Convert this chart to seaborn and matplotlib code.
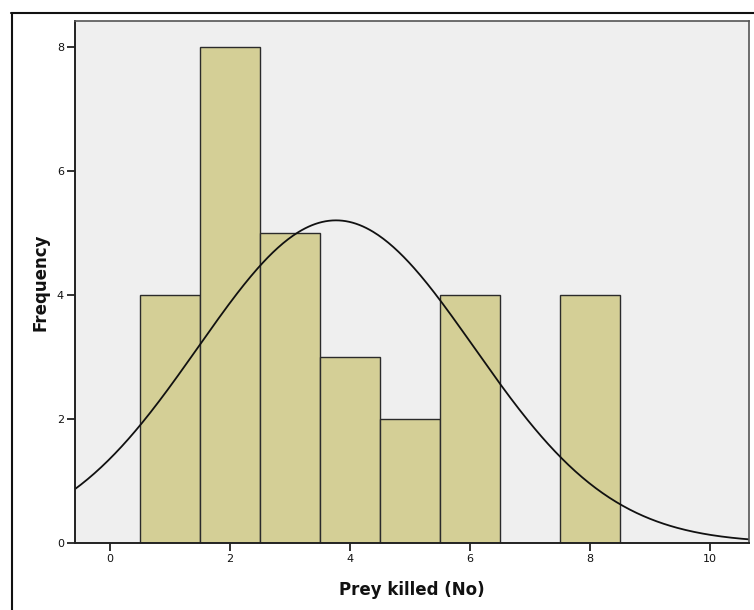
import numpy as np
import pandas as pd
import matplotlib
matplotlib.use("Agg")
import matplotlib.pyplot as plt
from matplotlib.lines import Line2D
import seaborn as sns

# Histogram counts
prey_killed = [1, 2, 3, 4, 5, 6, 7, 8]
frequency = [4, 8, 5, 3, 2, 4, 0, 4]

x_ticks = [0, 2, 4, 6, 8, 10]
y_ticks = [0, 2, 4, 6, 8]

obs = np.repeat(prey_killed, frequency)
df = pd.DataFrame({"prey": obs})

# fitted normal curve (as SPSS draws it)
mu = obs.mean()
sd = obs.std(ddof=1)
n = len(obs)

sns.set_style("white")
plt.rcParams["font.family"] = ["DejaVu Sans"]

fig = plt.figure(figsize=(7.54, 6.10), dpi=100)
ax = fig.add_axes([0.0995, 0.1098, 0.8939, 0.8558])
ax.set_facecolor("#efefef")

sns.histplot(data=df, x="prey", discrete=True, color="#d4cf96", alpha=1,
             edgecolor="#2b2b2b", linewidth=1.0, ax=ax)

xs = np.linspace(-0.6, 10.7, 400)
ys = n * 1.0 / (sd * np.sqrt(2 * np.pi)) * np.exp(-0.5 * ((xs - mu) / sd) ** 2)
curve = pd.DataFrame({"x": xs, "y": ys})
sns.lineplot(data=curve, x="x", y="y", color="#111111", lw=1.3, ax=ax)

ax.set_xlim(-0.583, 10.65)
ax.set_ylim(0, 8.42)
ax.set_xticks(x_ticks)
ax.set_yticks(y_ticks)
ax.tick_params(axis="both", bottom=True, left=True, direction="out",
               length=6, width=1.3, color="#222222", labelcolor="#111111",
               labelsize=8, pad=2)
for side in ["left", "bottom"]:
    ax.spines[side].set_color("#222222")
    ax.spines[side].set_linewidth(1.4)
for side in ["top", "right"]:
    ax.spines[side].set_color("#555555")
    ax.spines[side].set_linewidth(1.2)

ax.set_xlabel("Prey killed (No)", fontsize=12, fontweight="bold",
              labelpad=12, color="#111111")
ax.set_ylabel("Frequency", fontsize=12, fontweight="bold",
              labelpad=5, color="#111111")

# outer frame lines (partially visible in the original)
fig.add_artist(Line2D([11 / 754, 1.0], [1 - 13 / 610, 1 - 13 / 610],
                      transform=fig.transFigure, color="#111111", lw=1.5))
fig.add_artist(Line2D([12 / 754, 12 / 754], [0, 1 - 13 / 610],
                      transform=fig.transFigure, color="#111111", lw=1.5))

fig.savefig("out.png", dpi=100)
